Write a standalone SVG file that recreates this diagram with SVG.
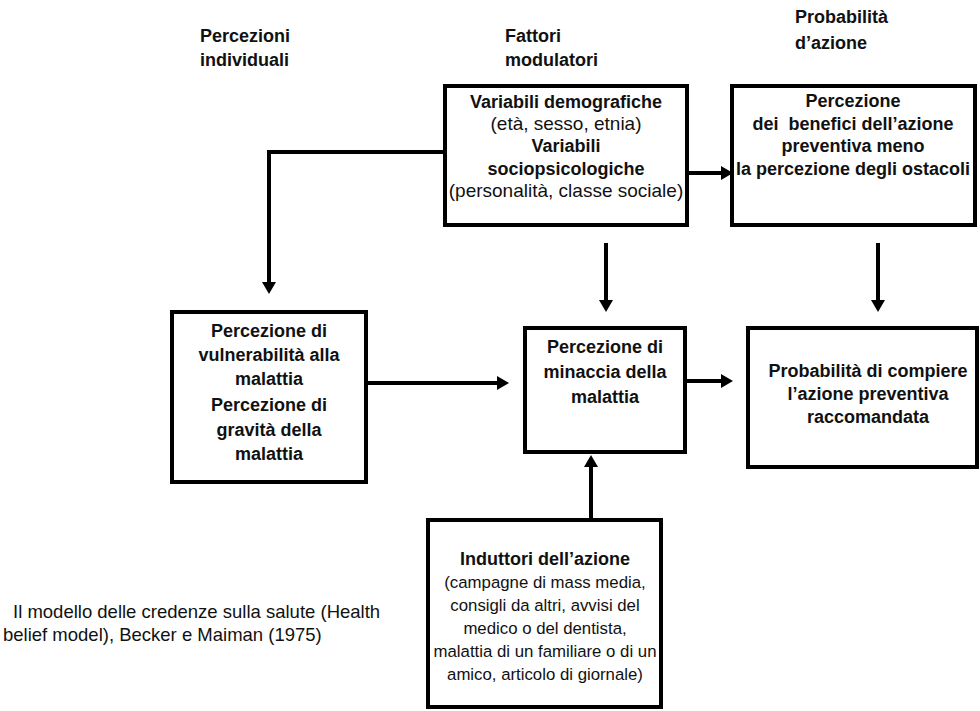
<svg xmlns="http://www.w3.org/2000/svg" width="980" height="711" viewBox="0 0 980 711">
<style>
text{font-family:"Liberation Sans",Arial,sans-serif;fill:#111;}
.b{font-weight:bold;font-size:18px;}
.r{font-size:19px;}
.rf{font-size:16.8px;}
.h{font-weight:bold;font-size:18px;}
.c{text-anchor:middle;}
.box{fill:#fff;stroke:#000;stroke-width:4;}
.conn{fill:none;stroke:#000;stroke-width:4;}
</style>
<defs>
<marker id="ah" markerUnits="userSpaceOnUse" markerWidth="14" markerHeight="14" refX="2" refY="7" orient="auto">
<path d="M0,0 L12,7 L0,14 z" fill="#000"/>
</marker>
</defs>
<rect width="980" height="711" fill="#fff"/>
<g id="headers">
<text class="h" x="200" y="42">Percezioni</text>
<text class="h" x="200" y="66">individuali</text>
<text class="h" x="505" y="42">Fattori</text>
<text class="h" x="505" y="66">modulatori</text>
<text class="h" x="795" y="23">Probabilità</text>
<text class="h" x="795" y="49">d’azione</text>
</g>
<g id="connectors">
<path class="conn" d="M445,152 H269 V284" marker-end="url(#ah)"/>
<path class="conn" d="M687,173 H723" marker-end="url(#ah)"/>
<path class="conn" d="M606,243 V302" marker-end="url(#ah)"/>
<path class="conn" d="M878,243 V302" marker-end="url(#ah)"/>
<path class="conn" d="M366,383 H499" marker-end="url(#ah)"/>
<path class="conn" d="M685,381 H723" marker-end="url(#ah)"/>
<path class="conn" d="M591,520 V465" marker-end="url(#ah)"/>
</g>
<g id="modulatori">
<rect class="box" x="445" y="86" width="242" height="139"/>
<text class="b c" x="566" y="108">Variabili demografiche</text>
<text class="r c" x="566" y="130">(età, sesso, etnia)</text>
<text class="b c" x="566" y="152">Variabili</text>
<text class="b c" x="566" y="175">sociopsicologiche</text>
<text class="r c" x="566" y="197">(personalità, classe sociale)</text>
</g>
<g id="benefici">
<rect class="box" x="732" y="86" width="243" height="139"/>
<text class="b c" x="853" y="107">Percezione</text>
<text class="b c" x="853" y="130" xml:space="preserve">dei  benefici dell’azione</text>
<text class="b c" x="853" y="152">preventiva meno</text>
<text class="b c" x="853" y="175">la percezione degli ostacoli</text>
</g>
<g id="vulnerabilita">
<rect class="box" x="172" y="312" width="194" height="170"/>
<text class="b c" x="269" y="337">Percezione di</text>
<text class="b c" x="269" y="361">vulnerabilità alla</text>
<text class="b c" x="269" y="385">malattia</text>
<text class="b c" x="269" y="411">Percezione di</text>
<text class="b c" x="269" y="436">gravità della</text>
<text class="b c" x="269" y="460">malattia</text>
</g>
<g id="minaccia">
<rect class="box" x="525" y="328" width="160" height="124"/>
<text class="b c" x="605" y="353">Percezione di</text>
<text class="b c" x="605" y="378">minaccia della</text>
<text class="b c" x="605" y="403">malattia</text>
</g>
<g id="probabilita">
<rect class="box" x="748" y="328" width="229" height="139"/>
<text class="b c" x="868" y="377">Probabilità di compiere</text>
<text class="b c" x="868" y="400">l’azione preventiva</text>
<text class="b c" x="868" y="423">raccomandata</text>
</g>
<g id="induttori">
<rect class="box" x="428" y="520" width="233" height="187"/>
<text class="b c" x="545" y="565">Induttori dell’azione</text>
<text class="rf c" x="545" y="588">(campagne di mass media,</text>
<text class="rf c" x="545" y="611">consigli da altri, avvisi del</text>
<text class="rf c" x="545" y="634">medico o del dentista,</text>
<text class="rf c" x="545" y="657">malattia di un familiare o di un</text>
<text class="rf c" x="545" y="680">amico, articolo di giornale)</text>
</g>
<g id="caption">
<text class="r" x="13" y="618" style="font-size:18.5px">Il modello delle credenze sulla salute (Health</text>
<text class="r" x="3" y="641" style="font-size:18.5px">belief model), Becker e Maiman (1975)</text>
</g>
</svg>
